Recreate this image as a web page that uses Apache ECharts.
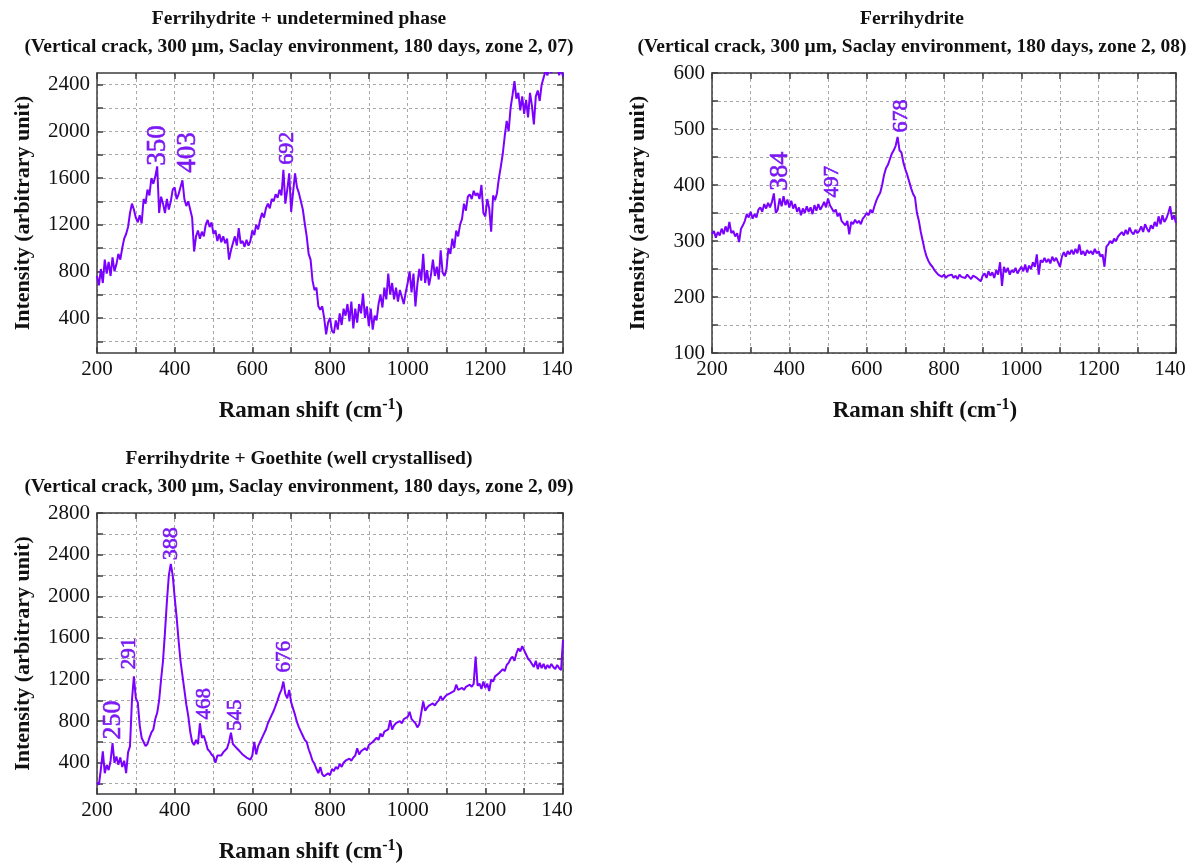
<!DOCTYPE html>
<html>
<head>
<meta charset="utf-8">
<script src="https://cdn.jsdelivr.net/npm/echarts@6.0.0/dist/echarts.min.js"></script>
<style>
html,body{margin:0;padding:0;background:#fff;}
#chart{width:1196px;height:867px;}
</style>
</head>
<body>
<div id="chart"></div>
<script>
// ---------------- DATA ----------------
const ramanShift = [
200,205,210,215,220,225,230,235,240,245,250,255,260,265,270,275,280,285,290,295,
300,305,310,315,320,325,330,335,340,345,350,355,360,365,370,375,380,385,390,395,
400,405,410,415,420,425,430,435,440,445,450,455,460,465,470,475,480,485,490,495,
500,505,510,515,520,525,530,535,540,545,550,555,560,565,570,575,580,585,590,595,
600,605,610,615,620,625,630,635,640,645,650,655,660,665,670,675,680,685,690,695,
700,705,710,715,720,725,730,735,740,745,750,755,760,765,770,775,780,785,790,795,
800,805,810,815,820,825,830,835,840,845,850,855,860,865,870,875,880,885,890,895,
900,905,910,915,920,925,930,935,940,945,950,955,960,965,970,975,980,985,990,995,
1000,1005,1010,1015,1020,1025,1030,1035,1040,1045,1050,1055,1060,1065,1070,1075,1080,1085,1090,1095,
1100,1105,1110,1115,1120,1125,1130,1135,1140,1145,1150,1155,1160,1165,1170,1175,1180,1185,1190,1195,
1200,1205,1210,1215,1220,1225,1230,1235,1240,1245,1250,1255,1260,1265,1270,1275,1280,1285,1290,1295,
1300,1305,1310,1315,1320,1325,1330,1335,1340,1345,1350,1355,1360,1365,1370,1375,1380,1385,1390,1395,
1400];

// Zone 2, 07 : Ferrihydrite + undetermined phase
const intensity07 = [
760,680,820,700,900,780,880,760,920,800,
860,950,900,1000,1080,1120,1180,1300,1380,1330,
1260,1220,1280,1210,1420,1380,1500,1450,1600,1550,
1610,1700,1300,1440,1380,1300,1420,1330,1400,1500,
1520,1420,1460,1520,1580,1420,1360,1400,1330,1260,
970,1100,1150,1080,1140,1100,1200,1240,1180,1220,
1120,1150,1060,1120,1050,1100,1040,1080,900,980,
1040,1100,1020,1170,1040,1060,1010,1070,1020,1060,
1150,1110,1200,1160,1240,1300,1260,1340,1380,1340,
1420,1400,1460,1430,1500,1450,1670,1380,1500,1640,
1310,1480,1640,1520,1470,1400,1330,1210,1100,950,
900,720,640,660,500,470,500,400,260,360,
400,290,270,380,300,440,340,480,420,520,
370,540,310,480,360,520,440,610,400,500,
330,480,300,420,380,520,600,490,660,560,
780,600,700,560,660,540,640,580,520,620,
700,800,620,780,500,690,820,720,950,700,
810,680,770,900,760,840,730,980,790,760,
820,1000,950,1080,1000,1150,1100,1200,1250,1380,
1320,1440,1460,1420,1490,1450,1470,1420,1540,1300,
1270,1420,1340,1140,1450,1410,1470,1600,1700,1810,
1960,2090,2000,2200,2310,2430,2280,2330,2180,2300,
2150,2270,2120,2330,2220,2060,2300,2350,2260,2400,
2460,2520,2480,2560,2500,2570,2520,2560,2480,2540,
2470];

// Zone 2, 08 : Ferrihydrite
const intensity08 = [
312,318,306,316,310,322,312,326,316,334,
314,318,308,314,298,322,328,336,348,342,
352,340,348,342,356,360,352,366,358,368,
360,370,385,350,356,376,362,380,364,374,
360,372,358,366,352,360,346,358,350,362,
352,360,348,364,354,366,356,362,370,360,
376,364,358,352,356,344,350,336,338,328,
336,312,334,330,338,332,336,330,340,344,
350,346,356,350,362,372,380,386,400,418,
430,436,446,456,462,470,486,462,458,440,
428,418,406,394,384,378,350,336,316,300,
284,272,264,258,254,248,246,240,238,236,
240,234,238,236,240,234,238,232,240,236,
238,234,240,236,232,238,240,234,236,228,
238,242,234,246,238,244,234,248,240,262,
220,254,244,252,240,248,244,252,242,248,
254,246,258,244,256,250,262,254,276,240,
266,262,270,262,268,260,272,264,270,262,
254,272,280,272,282,276,284,276,286,278,
294,276,282,274,284,278,282,276,286,278,
282,272,276,254,290,294,300,296,304,300,
308,306,316,310,320,312,324,316,312,320,
314,318,326,316,330,322,316,328,322,334,
326,344,330,346,334,340,350,362,338,346,
332];

// Zone 2, 09 : Ferrihydrite + Goethite (well crystallised)
const intensity09 = [
210,190,340,510,300,380,330,420,590,400,
460,380,450,360,420,300,500,560,1000,1230,
1020,980,760,640,600,560,580,640,690,720,
820,880,1000,1200,1380,1650,1950,2200,2310,2200,
1990,1800,1580,1380,1240,1100,960,850,700,600,
570,620,580,780,640,660,600,530,510,480,
460,400,470,480,470,500,490,540,600,690,
580,560,540,520,500,480,470,450,440,430,
470,600,480,560,600,640,680,720,780,820,
860,900,950,1000,1060,1100,1180,1060,1020,1100,
980,920,860,790,740,700,660,620,600,530,
480,420,390,340,300,360,290,270,260,300,
280,340,320,360,340,390,360,400,420,410,
440,420,450,470,540,480,510,500,540,520,
570,560,600,610,640,620,680,650,700,690,
720,810,720,760,780,770,800,780,820,810,
840,890,820,800,780,740,770,880,990,900,
930,950,940,970,950,980,1000,1040,1000,1030,
1050,1040,1070,1060,1090,1150,1100,1090,1120,1100,
1130,1120,1150,1130,1160,1420,1140,1160,1110,1180,
1120,1160,1090,1200,1180,1230,1220,1260,1250,1300,
1280,1340,1360,1400,1420,1380,1450,1500,1470,1520,
1480,1440,1400,1380,1350,1320,1380,1300,1360,1310,
1350,1300,1340,1310,1350,1320,1300,1340,1310,1290,
1580];

// Peak annotations (wavenumber text)
const peaks07 = ['350', '403', '692'];
const peaks08 = ['384', '497', '678'];
const peaks09 = ['250', '291', '388', '468', '545', '676'];

// Axis ticks / labels
const xTicks = [200,300,400,500,600,700,800,900,1000,1100,1200,1300,1400];
const xLabels = [200,400,600,800,1000,1200,1400];
const yTicks07 = [200,400,600,800,1000,1200,1400,1600,1800,2000,2200,2400];
const yLabels07 = [400,800,1200,1600,2000,2400];
const yTicks08 = [100,150,200,250,300,350,400,450,500,550,600];
const yLabels08 = [100,200,300,400,500,600];
const yTicks09 = [200,400,600,800,1000,1200,1400,1600,1800,2000,2200,2400,2600,2800];
const yLabels09 = [400,800,1200,1600,2000,2400,2800];

const titles = [
  ['Ferrihydrite + undetermined phase', '(Vertical crack, 300 µm, Saclay environment, 180 days, zone 2, 07)'],
  ['Ferrihydrite', '(Vertical crack, 300 µm, Saclay environment, 180 days, zone 2, 08)'],
  ['Ferrihydrite + Goethite (well crystallised)', '(Vertical crack, 300 µm, Saclay environment, 180 days, zone 2, 09)']
];
const xName = 'Raman shift (cm';
const yName = 'Intensity (arbitrary unit)';

// ---------------- LAYOUT / STYLE ----------------
const LINE = '#7a00ff';
const LABEL = '#7b18f4';
const AX = '#3c3c3c';
const SERIF = '"Liberation Serif", "DejaVu Serif", serif';

const panels = [
  {grid:{left:97, top:73, width:466, height:280}, ymin:100, ymax:2500, yTicks:yTicks07, yLabels:yLabels07,
   data:intensity07, title:titles[0], titleX:294, titleTop:4,
   peaks:peaks07, peakPos:[[359,1700],[436,1640],[690,1710]], peakSize:[27,27,22]},
  {grid:{left:712, top:73, width:464, height:280}, ymin:100, ymax:600, yTicks:yTicks08, yLabels:yLabels08,
   data:intensity08, title:titles[1], titleX:907, titleTop:4,
   peaks:peaks08, peakPos:[[378,389],[514,377],[690,493]], peakSize:[26,21,22]},
  {grid:{left:97, top:513, width:466, height:281}, ymin:100, ymax:2800, yTicks:yTicks09, yLabels:yLabels09,
   data:intensity09, title:titles[2], titleX:294, titleTop:444,
   peaks:peaks09, peakPos:[[243,620],[286,1295],[392,2340],[478,810],[559,700],[684,1262]], peakSize:[26,21,22,21,21,21]}
];

const option = {
  backgroundColor:'#fff',
  animation:false,
  title:[], grid:[], xAxis:[], yAxis:[], series:[]
};

panels.forEach((p, i) => {
  option.title.push({
    text:p.title[0], subtext:p.title[1], left:p.titleX, top:p.titleTop, textAlign:'center', itemGap:8,
    textStyle:{fontFamily:SERIF, fontWeight:'bold', fontSize:19.5, color:'#111'},
    subtextStyle:{fontFamily:SERIF, fontWeight:'bold', fontSize:19.5, color:'#111'}
  });
  option.grid.push(Object.assign({outerBoundsMode:'none', containLabel:false}, p.grid));
  const axLine = {show:true, lineStyle:{color:AX, width:1.5}};
  const tick = (vals) => ({show:true, inside:true, length:6, customValues:vals, lineStyle:{color:AX, width:1.5}});
  const split = {show:true, lineStyle:{color:'#a8a8a8', type:[3,3], width:1}};
  // bottom x
  option.xAxis.push({
    type:'value', gridIndex:i, min:200, max:1400, interval:100, position:'bottom',
    axisLine:axLine, axisTick:tick(xTicks), splitLine:split,
    axisLabel:{customValues:xLabels, margin:6, fontFamily:SERIF, fontSize:21, color:'#111',
      formatter:(v) => v === 1400 ? '{cut|140}' : String(v),
      rich:{cut:{fontFamily:SERIF, fontSize:21, color:'#111', padding:[0,12,0,0]}}},
    name:'{a|' + xName + '}{s|-1}{a|)}', nameLocation:'middle', nameGap:44,
    nameTextStyle:{padding:[0,38,0,0], rich:{
      a:{fontFamily:SERIF, fontWeight:'bold', fontSize:23, color:'#111'},
      s:{fontFamily:SERIF, fontWeight:'bold', fontSize:16, color:'#111', verticalAlign:'top', padding:[0,0,12,0]}}}
  });
  // top x (frame)
  option.xAxis.push({
    type:'value', gridIndex:i, min:200, max:1400, interval:100, position:'top',
    axisLine:axLine, axisTick:tick(xTicks), axisLabel:{show:false}, splitLine:{show:false}
  });
  // left y
  option.yAxis.push({
    type:'value', gridIndex:i, min:p.ymin, max:p.ymax, position:'left',
    axisLine:axLine, axisTick:tick(p.yTicks), splitLine:split,
    axisLabel:{customValues:p.yLabels, margin:7, fontFamily:SERIF, fontSize:21, color:'#111', formatter:(v) => String(v)},
    name:yName, nameLocation:'middle', nameGap:63,
    nameTextStyle:{fontFamily:SERIF, fontWeight:'bold', fontSize:22, color:'#111'}
  });
  // right y (frame)
  option.yAxis.push({
    type:'value', gridIndex:i, min:p.ymin, max:p.ymax, position:'right',
    axisLine:axLine, axisTick:tick(p.yTicks), axisLabel:{show:false}, splitLine:{show:false}
  });
  option.series.push({
    type:'line', xAxisIndex:2*i, yAxisIndex:2*i, showSymbol:false, symbol:'none', clip:true,
    lineStyle:{color:LINE, width:2}, z:3,
    data:ramanShift.map((x, k) => [x, p.data[k]])
  });
  option.series.push({
    type:'scatter', xAxisIndex:2*i, yAxisIndex:2*i, symbolSize:1, itemStyle:{color:'rgba(0,0,0,0)'}, z:4, silent:true,
    label:{show:true, position:[0,0], rotate:90, align:'left', verticalAlign:'middle', color:LABEL, fontFamily:SERIF,
      textBorderColor:LABEL, textBorderWidth:0.6, opacity:1,
      formatter:(d) => d.name},
    labelLayout:{hideOverlap:false},
    data:p.peaks.map((t, k) => ({name:t, value:p.peakPos[k], label:{fontSize:p.peakSize[k]}}))
  });
});

const chart = echarts.init(document.getElementById('chart'), null, {renderer:'canvas'});
chart.setOption(option);
</script>
</body>
</html>
